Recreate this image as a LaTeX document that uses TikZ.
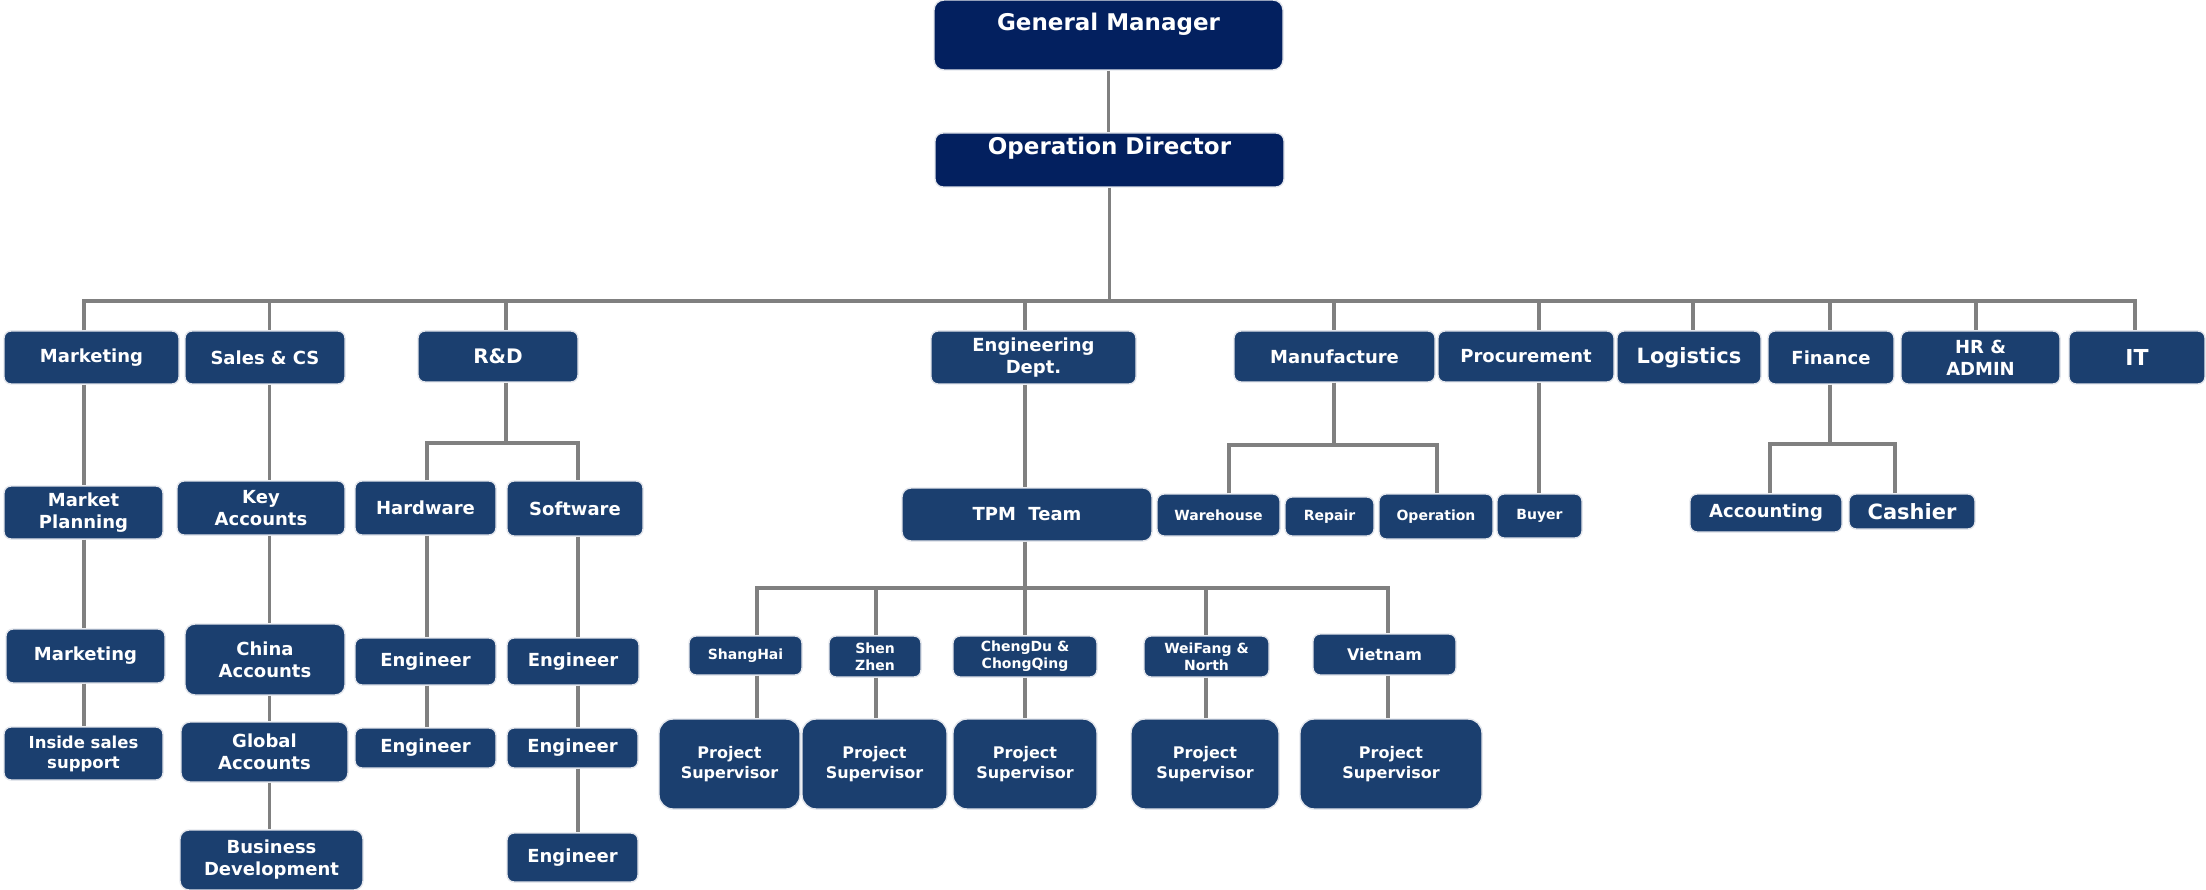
\documentclass[tikz,border=0pt]{standalone}
\usepackage{fontspec}
\setmainfont{DejaVu Sans}
\definecolor{gmblue}{HTML}{03205F}
\definecolor{boxblue}{HTML}{1B3F6F}
\definecolor{edgecol}{HTML}{E3E6EC}
\definecolor{conncol}{HTML}{808080}
\tikzset{
  box/.style={draw=edgecol, line width=1.4pt, fill=boxblue, rounded corners=7pt, text=white, align=center, inner sep=0pt},
  fs/.style 2 args={font=\bfseries\fontsize{#1}{#2}\selectfont},
  big/.style={fs={18}{22}},
  small/.style={fs={14}{17}},
  conn/.style={draw=conncol, line width=3.2pt},
}
\newcommand{\obox}[7][]{\node[box,#1,minimum width={#5-#3},minimum height={#6-#4}] (#2) at ({(#3+#5)/2},{(#4+#6)/2}) {#7};}
\begin{document}
\begin{tikzpicture}[x=1pt,y=-1pt]
\useasboundingbox (0,0) rectangle (2206,890);
% top
\obox[fill=gmblue, fs={23}{28}, text height=31pt, text depth=39pt, rounded corners=10pt]{gm}{934}{0}{1283}{70}{General Manager}
\obox[fill=gmblue, fs={23}{28}, text height=22pt, text depth=32pt, rounded corners=8pt]{od}{935}{133}{1284}{187}{Operation Director}
% level 1
\obox[big]{mkt1}{4}{331}{179}{384}{Marketing}
\obox[big]{sales}{185}{331}{345}{384}{Sales \& CS}
\obox[fs={20}{24}]{rd}{418}{331}{578}{382}{R\&D}
\obox[big]{eng}{931}{331}{1136}{384}{Engineering\\Dept.}
\obox[big]{mfg}{1234}{331}{1435}{382}{Manufacture}
\obox[big]{proc}{1438}{331}{1614}{382}{Procurement}
\obox[fs={21}{25}]{logi}{1617}{331}{1761}{384}{Logistics}
\obox[big]{fin}{1768}{331}{1894}{384}{Finance}
\obox[big]{hr}{1901}{331}{2060}{384}{HR \&\\ADMIN}
\obox[fs={22}{26}]{it}{2069}{331}{2205}{384}{IT}
% level 2
\obox[big]{mplan}{4}{486}{163}{539}{Market\\Planning}
\obox[big]{keyacc}{177}{481}{345}{535}{Key\\Accounts}
\obox[big]{hw}{355}{481}{496}{535}{Hardware}
\obox[big]{sw}{507}{481}{643}{536}{Software}
\obox[big, rounded corners=9pt]{tpm}{902}{488}{1152}{541}{TPM\ \ Team}
\obox[small]{wh}{1157}{494}{1280}{536}{Warehouse}
\obox[small]{rep}{1285}{497}{1374}{536}{Repair}
\obox[small]{op}{1379}{494}{1493}{539}{Operation}
\obox[small]{buyer}{1497}{494}{1582}{538}{Buyer}
\obox[big]{acct}{1690}{494}{1842}{532}{Accounting}
\obox[fs={21}{25}]{cash}{1849}{494}{1975}{529}{Cashier}
% level 3
\obox[big]{mkt2}{6}{629}{165}{683}{Marketing}
\obox[big, rounded corners=10pt]{china}{185}{624}{345}{695}{China\\Accounts}
\obox[big]{hwe1}{355}{638}{496}{685}{Engineer}
\obox[big]{swe1}{507}{638}{639}{685}{Engineer}
\obox[small]{sh}{689}{636}{802}{675}{ShangHai}
\obox[small]{sz}{829}{636}{921}{677}{Shen\\Zhen}
\obox[small]{cd}{953}{636}{1097}{677}{ChengDu \&\\ChongQing}
\obox[small]{wf}{1144}{636}{1269}{677}{WeiFang \&\\North}
\obox[fs={16}{20}]{vn}{1313}{634}{1456}{675}{Vietnam}
% level 4
\obox[fs={16.5}{20}]{isup}{4}{727}{163}{780}{Inside sales\\support}
\obox[big, rounded corners=9pt]{glob}{181}{722}{348}{782}{Global\\Accounts}
\obox[big]{hwe2}{355}{728}{496}{768}{Engineer}
\obox[big]{swe2}{507}{728}{638}{768}{Engineer}
\obox[fs={16}{20}, rounded corners=14pt]{ps1}{659}{719}{800}{809}{Project\\Supervisor}
\obox[fs={16}{20}, rounded corners=14pt]{ps2}{802}{719}{947}{809}{Project\\Supervisor}
\obox[fs={16}{20}, rounded corners=14pt]{ps3}{953}{719}{1097}{809}{Project\\Supervisor}
\obox[fs={16}{20}, rounded corners=14pt]{ps4}{1131}{719}{1279}{809}{Project\\Supervisor}
\obox[fs={16}{20}, rounded corners=14pt]{ps5}{1300}{719}{1482}{809}{Project\\Supervisor}
% level 5
\obox[big, rounded corners=9pt]{bizdev}{180}{830}{363}{890}{Business\\Development}
\obox[big]{swe3}{507}{833}{638}{882}{Engineer}

% connector coordinates
\coordinate (bus) at (0,301);
\coordinate (xm) at (84,0);
\coordinate (xs) at (269.5,0);
\coordinate (xrd) at (506,0);
\coordinate (xhw) at (427,0);
\coordinate (xsw) at (578,0);
\coordinate (xeng) at (1025,0);
\coordinate (xmfg) at (1334,0);
\coordinate (xwh) at (1229,0);
\coordinate (xop) at (1437,0);
\coordinate (xpr) at (1539,0);
\coordinate (xlo) at (1693,0);
\coordinate (xfin) at (1830,0);
\coordinate (xac) at (1770,0);
\coordinate (xca) at (1895,0);
\coordinate (xhr) at (1976,0);
\coordinate (xit) at (2135,0);
\coordinate (xsh) at (757,0);
\coordinate (xsz) at (876,0);
\coordinate (xwf) at (1206,0);
\coordinate (xvn) at (1388,0);
\coordinate (rdbus) at (0,443);
\coordinate (mfbus) at (0,445);
\coordinate (fibus) at (0,444);
\coordinate (tpbus) at (0,588);

% top connectors
\draw[conn] (gm.south) -- (gm.south |- od.north);
\draw[conn] (od.south) -- (od.south |- bus);
\draw[conn] (xm |- mkt1.north) -- (xm |- bus) -- (xit |- bus) -- (xit |- it.north);
\draw[conn] (xs |- bus) -- (xs |- sales.north);
\draw[conn] (xrd |- bus) -- (xrd |- rd.north);
\draw[conn] (xeng |- bus) -- (xeng |- eng.north);
\draw[conn] (xmfg |- bus) -- (xmfg |- mfg.north);
\draw[conn] (xpr |- bus) -- (xpr |- proc.north);
\draw[conn] (xlo |- bus) -- (xlo |- logi.north);
\draw[conn] (xfin |- bus) -- (xfin |- fin.north);
\draw[conn] (xhr |- bus) -- (xhr |- hr.north);

% marketing column
\draw[conn] (xm |- mkt1.south) -- (xm |- mplan.north);
\draw[conn] (xm |- mplan.south) -- (xm |- mkt2.north);
\draw[conn] (xm |- mkt2.south) -- (xm |- isup.north);
% sales column
\draw[conn] (xs |- sales.south) -- (xs |- keyacc.north);
\draw[conn] (xs |- keyacc.south) -- (xs |- china.north);
\draw[conn] (xs |- china.south) -- (xs |- glob.north);
\draw[conn] (xs |- glob.south) -- (xs |- bizdev.north);
% R&D
\draw[conn] (xrd |- rd.south) -- (xrd |- rdbus);
\draw[conn] (xhw |- hw.north) -- (xhw |- rdbus) -- (xsw |- rdbus) -- (xsw |- sw.north);
\draw[conn] (xhw |- hw.south) -- (xhw |- hwe1.north);
\draw[conn] (xhw |- hwe1.south) -- (xhw |- hwe2.north);
\draw[conn] (xsw |- sw.south) -- (xsw |- swe1.north);
\draw[conn] (xsw |- swe1.south) -- (xsw |- swe2.north);
\draw[conn] (xsw |- swe2.south) -- (xsw |- swe3.north);
% Engineering
\draw[conn] (xeng |- eng.south) -- (xeng |- tpm.north);
\draw[conn] (xeng |- tpm.south) -- (xeng |- tpbus);
\draw[conn] (xsh |- sh.north) -- (xsh |- tpbus) -- (xvn |- tpbus) -- (xvn |- vn.north);
\draw[conn] (xsz |- tpbus) -- (xsz |- sz.north);
\draw[conn] (xeng |- tpbus) -- (xeng |- cd.north);
\draw[conn] (xwf |- tpbus) -- (xwf |- wf.north);
\draw[conn] (xsh |- sh.south) -- (xsh |- ps1.north);
\draw[conn] (xsz |- sz.south) -- (xsz |- ps2.north);
\draw[conn] (xeng |- cd.south) -- (xeng |- ps3.north);
\draw[conn] (xwf |- wf.south) -- (xwf |- ps4.north);
\draw[conn] (xvn |- vn.south) -- (xvn |- ps5.north);
% Manufacture
\draw[conn] (xmfg |- mfg.south) -- (xmfg |- mfbus);
\draw[conn] (xwh |- wh.north) -- (xwh |- mfbus) -- (xop |- mfbus) -- (xop |- op.north);
% Procurement
\draw[conn] (xpr |- proc.south) -- (xpr |- buyer.north);
% Finance
\draw[conn] (xfin |- fin.south) -- (xfin |- fibus);
\draw[conn] (xac |- acct.north) -- (xac |- fibus) -- (xca |- fibus) -- (xca |- cash.north);
\end{tikzpicture}
\end{document}
